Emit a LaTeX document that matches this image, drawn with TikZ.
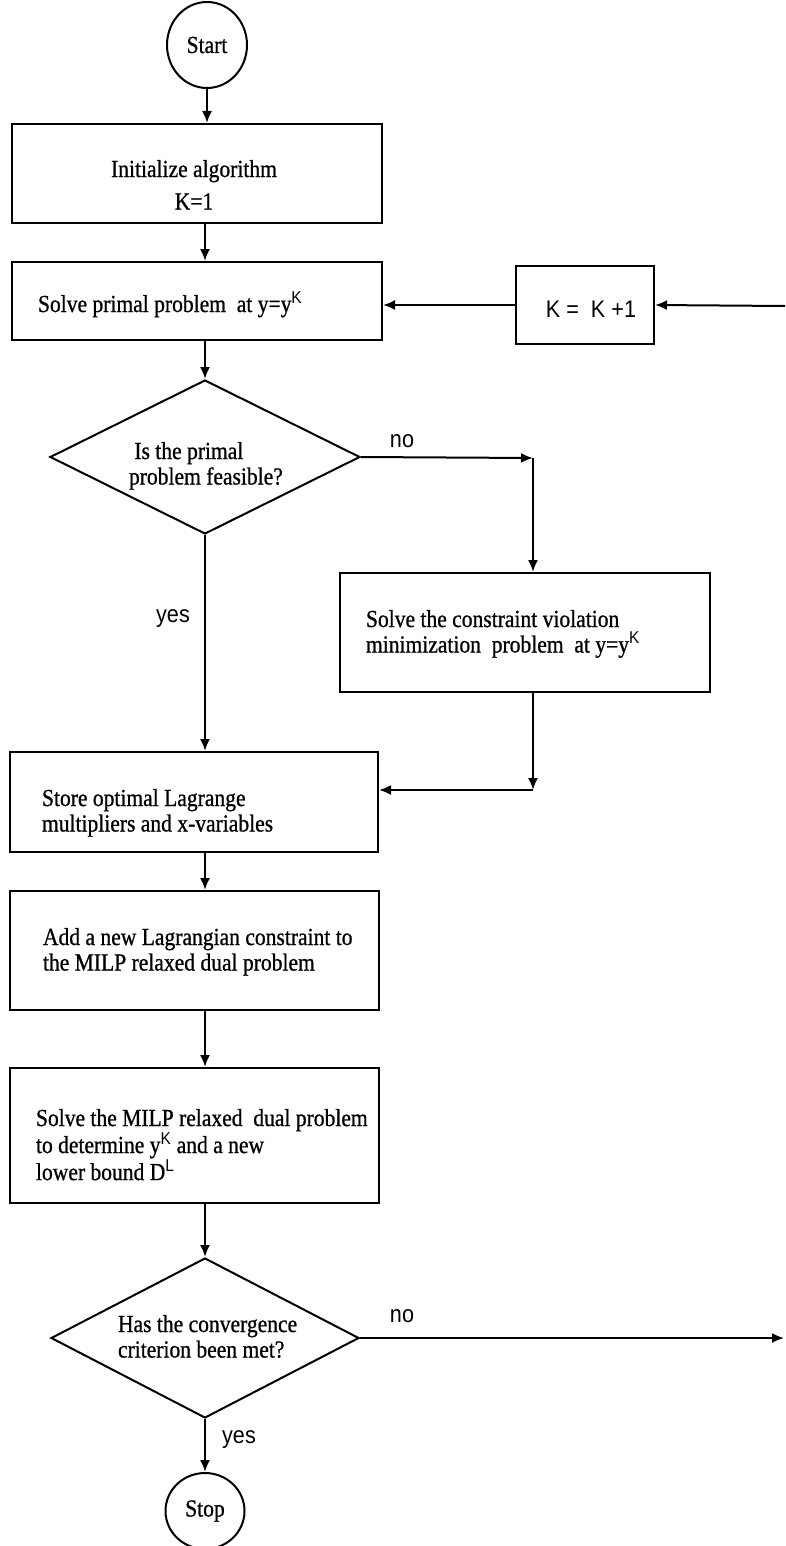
\documentclass[tikz,border=0pt]{standalone}
\usepackage{fontspec}
\setmainfont{Liberation Serif}[FakeStretch=0.88,FakeBold=0.8]
\setsansfont{Liberation Sans}[FakeStretch=0.9]
\usetikzlibrary{shapes.geometric,arrows.meta}
\newcommand{\supK}{\textsuperscript{\sffamily K}}
\newcommand{\supL}{\textsuperscript{\sffamily L}}

\begin{document}
\begin{tikzpicture}[x=1bp,y=-1bp,
  line width=2bp,
  flow/.style={-{Latex[length=12bp,width=10bp]}},
  box/.style={draw,rectangle,inner sep=0pt},
  dec/.style={draw,diamond,inner sep=0pt,aspect=2},
  term/.style={draw,ellipse,inner sep=0pt,font=\fontsize{24.5bp}{26bp}\selectfont},
  txt/.style={inner sep=0pt,align=left,font=\fontsize{24.5bp}{25.5bp}\selectfont},
  lbl/.style={inner sep=0pt,font=\sffamily\fontsize{24bp}{26bp}\selectfont},
]
\useasboundingbox (0,0) rectangle (785,1546);
\fill[white] (0,0) rectangle (785,1546);

% main column of arrows
\coordinate (col) at (205,0);

% terminals, boxes and decisions
\node[term, minimum width=80bp, minimum height=86bp] (start) at (207,45) {Start};

\node[box, minimum width=370bp, minimum height=99bp] (init) at (197,173.5) {};
\node[txt, align=center, anchor=north] (init-t) at (194,159) {Initialize algorithm\\[7bp]K=1};

\node[box, minimum width=370bp, minimum height=78bp] (primal) at (197,301) {};
\node[txt, anchor=base west] (primal-t) at (37,312) {Solve primal problem\ \ at y=y\supK};

\node[box, minimum width=138bp, minimum height=78bp] (kbox) at (585,305) {};
\node[lbl, anchor=base] (kbox-t) at (591,317) {K =\ \ K +1};

\node[dec, minimum width=310bp, minimum height=154bp] (d1) at (205,457) {};
\node[txt, anchor=north west] (d1-t) at (128,441) {\ Is the primal\\problem feasible?};

\node[box, minimum width=370bp, minimum height=119bp] (cv) at (525,632.5) {};
\node[txt, anchor=north west] (cv-t) at (365,609) {Solve the constraint violation\\minimization\ \ problem\ \ at y=y\supK};

\node[box, minimum width=368bp, minimum height=100bp] (store) at (194,802) {};
\node[txt, anchor=north west] (store-t) at (41,788) {Store optimal Lagrange\\multipliers and x-variables};

\node[box, minimum width=369bp, minimum height=119bp] (add) at (194.5,950.5) {};
\node[txt, anchor=north west] (add-t) at (42,927) {Add a new Lagrangian constraint to\\the MILP relaxed dual problem};

\node[box, minimum width=369bp, minimum height=135bp] (milp) at (194.5,1135.5) {};
\node[txt, anchor=north west] (milp-t) at (35,1108) {Solve the MILP relaxed\ \ dual problem\\to determine y\supK\ and a new\\lower bound D\supL};

\node[dec, minimum width=308bp, minimum height=160bp] (d2) at (205,1338) {};
\node[txt, anchor=north west] (d2-t) at (117,1314) {Has the convergence\\criterion been met?};

\node[term, minimum width=79bp, minimum height=76bp] (stop) at (205,1511) {Stop};

% branch labels
\node[lbl, anchor=base] (no1) at (402,447) {no};
\node[lbl, anchor=base] (yes1) at (173,622) {yes};
\node[lbl, anchor=base] (no2) at (402,1322) {no};
\node[lbl, anchor=base] (yes2) at (239,1443) {yes};

% corners and page-edge ends of the loop back
\coordinate (c1) at (533,458);
\coordinate (c2) at (533,790);
\coordinate (fbout) at (784,1338);
\coordinate (fbin) at (785,306);

% connectors
\draw[flow] (start) -- (start |- init.north);
\draw[flow] (init.south -| col) -- (primal.north -| col);
\draw[flow] (primal.south -| col) -- (d1.north);
\draw[flow] (d1.east) -- (c1);
\draw[flow] (c1) -- (c1 |- cv.north);
\draw[flow] (d1.south) -- (d1.south |- store.north);
\draw[flow] (cv.south -| c1) -- (c2);
\draw[flow] (c2) -- (c2 -| store.east);
\draw[flow] (store.south -| col) -- (add.north -| col);
\draw[flow] (add.south -| col) -- (milp.north -| col);
\draw[flow] (milp.south -| col) -- (d2.north);
\draw[flow] (d2.south) -- (stop.north);
\draw[flow] (d2.east) -- (fbout);
\draw[flow] (fbin) -- (kbox.east);
\draw[flow] (kbox.west) -- (kbox.west -| primal.east);
\end{tikzpicture}
\end{document}
